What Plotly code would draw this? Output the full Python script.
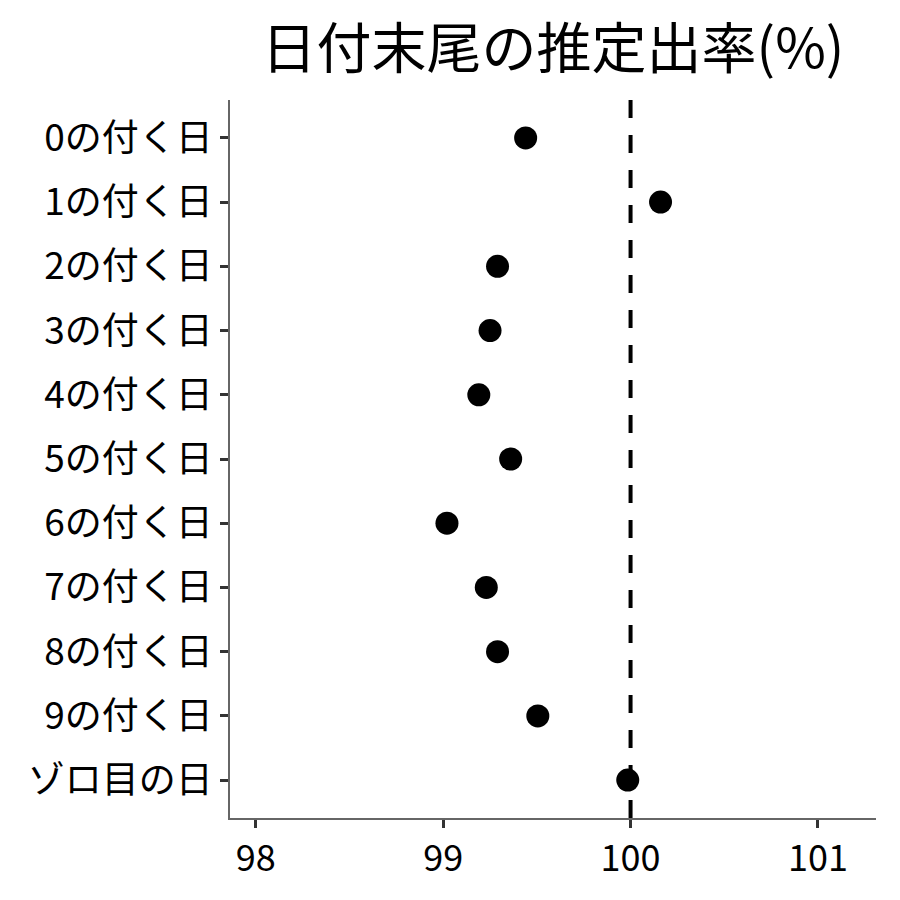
import plotly.graph_objects as go

categories = ["0の付く日", "1の付く日", "2の付く日", "3の付く日", "4の付く日",
              "5の付く日", "6の付く日", "7の付く日", "8の付く日", "9の付く日", "ゾロ目の日"]
values = [99.44, 100.16, 99.29, 99.25, 99.19, 99.36, 99.02, 99.23, 99.29, 99.505, 99.985]
x_ticks = [98, 99, 100, 101]
ref_value = 100

FONT = "Noto Sans CJK JP"

fig = go.Figure()
fig.add_trace(go.Scatter(
    x=values, y=categories, mode="markers",
    marker=dict(color="black", size=23),
    showlegend=False, cliponaxis=False,
))
fig.add_vline(x=ref_value, line=dict(color="black", width=4, dash="18px,17px"), layer="below")

fig.update_layout(
    width=900, height=900,
    plot_bgcolor="white", paper_bgcolor="white",
    margin=dict(l=222, r=32, t=92, b=90),
    title=dict(text="日付末尾の推定出率(%)", x=0.5, xref="paper", xanchor="center",
               y=0.955, yref="container", yanchor="middle",
               font=dict(family=FONT, size=55, color="black")),
    font=dict(family=FONT, color="black"),
)
fig.update_xaxes(
    range=[97.862, 101.31], tickvals=x_ticks, ticktext=[str(t) for t in x_ticks],
    showgrid=False, zeroline=False,
    showline=True, linecolor="#666666", linewidth=1.5,
    ticks="outside", ticklen=8, tickwidth=3, tickcolor="#333333",
    tickfont=dict(family=FONT, size=36, color="black"),
)
fig.update_yaxes(
    categoryorder="array", categoryarray=categories,
    range=[10.59, -0.59],
    showgrid=False, zeroline=False,
    showline=True, linecolor="#666666", linewidth=1.5,
    ticks="outside", ticklen=8, tickwidth=3, tickcolor="#333333",
    tickfont=dict(family=FONT, size=37, color="black"),
)

fig.write_html("out.html")
